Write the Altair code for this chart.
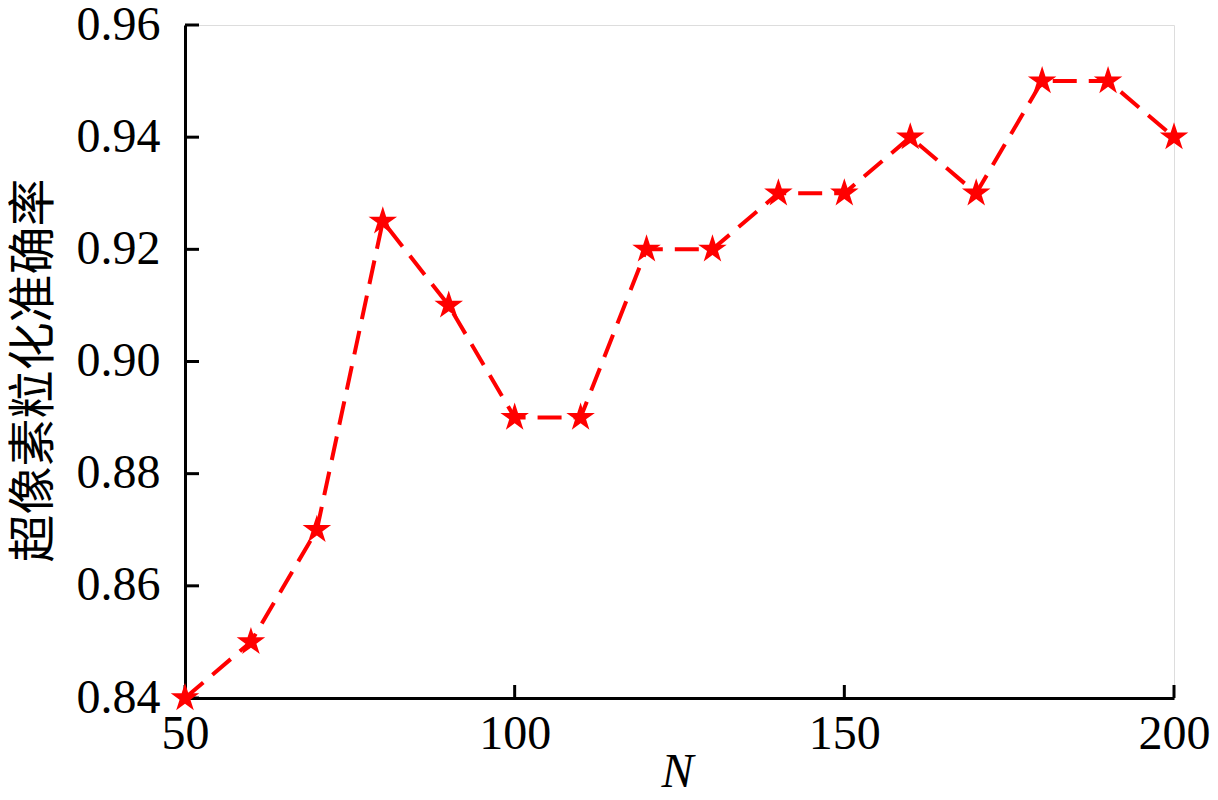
import altair as alt
import pandas as pd

n_values = [50, 60, 70, 80, 90, 100, 110, 120, 130, 140, 150, 160, 170, 180, 190, 200]
accuracy = [0.84, 0.85, 0.87, 0.925, 0.91, 0.89, 0.89, 0.92, 0.92, 0.93, 0.93, 0.94, 0.93, 0.95, 0.95, 0.94]
x_ticks = [50, 100, 150, 200]
y_ticks = [0.84, 0.86, 0.88, 0.90, 0.92, 0.94, 0.96]

df = pd.DataFrame({"N": n_values, "acc": accuracy})
xt = pd.DataFrame({"N": x_ticks})
yt = pd.DataFrame({"acc": y_ticks})

STAR = ("M0,-1L0.2245,-0.309L0.951,-0.309L0.363,0.118L0.588,0.809L0,0.382"
        "L-0.588,0.809L-0.363,0.118L-0.951,-0.309L-0.2245,-0.309Z")

W, H = 989, 673
xscale = alt.Scale(domain=[50, 200], nice=False, zero=False)
yscale = alt.Scale(domain=[0.84, 0.96], nice=False, zero=False)

xaxis = alt.Axis(values=x_ticks, format="d", tickSize=0, labelPadding=12, labelFlush=False,
                 labelFont="Liberation Serif", labelFontSize=48, labelColor="black",
                 domainColor="black", domainWidth=3, grid=False,
                 title="N", titleFont="Liberation Serif", titleFontStyle="italic",
                 titleFontWeight="normal", titleFontSize=48, titleColor="black",
                 titleX=492, titleY=88, titleBaseline="alphabetic", titleAlign="center")
yaxis = alt.Axis(values=y_ticks, format=".2f", tickSize=0, labelPadding=25, labelFlush=False,
                 labelFont="Liberation Serif", labelFontSize=48, labelColor="black",
                 domainColor="black", domainWidth=3, grid=False,
                 title="超像素粒化准确率", titleFont="Noto Sans CJK SC", titleFontSize=48,
                 titleFontWeight="normal", titleColor="black",
                 titleAngle=270, titleX=-151, titleY=345, titleAlign="center",
                 titleBaseline="middle")

X = alt.X("N:Q", scale=xscale, axis=xaxis)
Y = alt.Y("acc:Q", scale=yscale, axis=yaxis)

line = alt.Chart(df).mark_line(color="#ff0000", strokeWidth=4, strokeDash=[24, 12],
                               interpolate="linear").encode(x=X, y=Y)
pts = alt.Chart(df).mark_point(shape=STAR, filled=True, color="#ff0000",
                               size=900, opacity=1).encode(x=X, y=Y)
xticks = alt.Chart(xt).mark_rule(color="black", strokeWidth=3).encode(
    x=X, y=alt.value(H), y2=alt.value(H - 13),
)
yticks = alt.Chart(yt).mark_rule(color="black", strokeWidth=3).encode(
    y=Y, x=alt.value(0), x2=alt.value(14),
)

chart = alt.layer(line, xticks, yticks, pts).properties(
    width=W, height=H,
    autosize=alt.AutoSizeParams(type="none"),
    padding={"left": 177, "top": 17, "right": 36, "bottom": 94},
).configure_view(strokeWidth=0, stroke="transparent").configure(background="white")

chart.save("out.html", embed_options={"renderer": "svg", "actions": False})
